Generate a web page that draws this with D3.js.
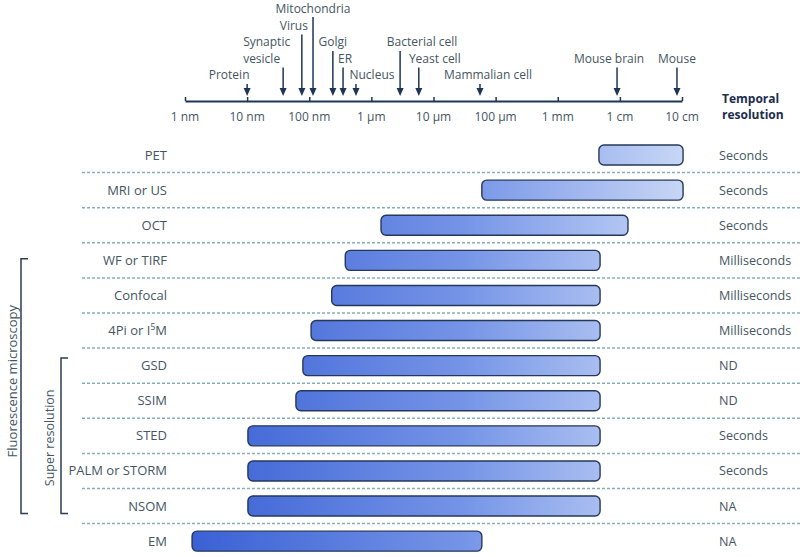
<!DOCTYPE html>
<html>
<head>
<meta charset="utf-8">
<script src="https://cdn.jsdelivr.net/npm/d3@7"></script>
<style>
  html, body { margin: 0; padding: 0; background: #fff; }
  svg { display: block; font-family: "Open Sans", "Lato", sans-serif; }
</style>
</head>
<body>
<svg id="chart" width="803" height="557"></svg>
<script>
// ---------- data ----------
const methods = ["PET", "MRI or US", "OCT", "WF or TIRF", "Confocal", "4Pi or I5M",
                 "GSD", "SSIM", "STED", "PALM or STORM", "NSOM", "EM"];
// spatial resolution range (metres), min and max
const resMin = [4.6e-3, 6.0e-5, 1.43e-6, 3.8e-7, 2.3e-7, 1.07e-7, 7.9e-8, 6.1e-8, 1.03e-8, 1.03e-8, 1.03e-8, 1.3e-9];
const resMax = [0.104, 0.104, 1.35e-2, 4.8e-3, 4.8e-3, 4.8e-3, 4.8e-3, 4.8e-3, 4.8e-3, 4.8e-3, 4.8e-3, 6.0e-5];
const temporal = ["Seconds", "Seconds", "Seconds", "Milliseconds", "Milliseconds", "Milliseconds",
                  "ND", "ND", "Seconds", "Seconds", "NA", "NA"];

const tickValues = [1e-9, 1e-8, 1e-7, 1e-6, 1e-5, 1e-4, 1e-3, 1e-2, 1e-1];
const tickLabels = ["1 nm", "10 nm", "100 nm", "1 µm", "10 µm", "100 µm", "1 mm", "1 cm", "10 cm"];

const objectNames = ["Protein", "Synaptic vesicle", "Virus", "Mitochondria", "Golgi", "ER", "Nucleus",
                     "Bacterial cell", "Yeast cell", "Mammalian cell", "Mouse brain", "Mouse"];
const objectSizes = [1e-8, 3.8e-8, 7.6e-8, 1.15e-7, 2.4e-7, 3.5e-7, 5.65e-7, 2.9e-6, 5.8e-6, 5.6e-5, 9.0e-3, 8.3e-2];

// ---------- layout (positions for object labels) ----------
const labelLevel = [0, 1, 3, 4, 2, 1, 0, 2, 1, 0, 1, 1];
const labelDx    = [-18, -40, -8, 0, 0, 2, 16, 22, 16, 8, -8, 0];
const labelAnchor = ["middle", "start", "middle", "middle", "middle", "middle", "middle",
                     "middle", "middle", "middle", "middle", "middle"];
const levelBaseline = [79, 62.5, 46, 29.5, 13];
const levelArrowTop = [84, 67.5, 51, 34.5, 17];

const svg = d3.select("#chart");
const navy = "#1e3656";
const textCol = "#44565f";

const x = d3.scaleLog().domain([1e-9, 1e-1]).range([185, 682]);
const y = d3.scaleBand().domain(methods).range([137.5, 558.7]).padding(0);

// gradient
const defs = svg.append("defs");
const grad = defs.append("linearGradient").attr("id", "barGrad")
  .attr("gradientUnits", "userSpaceOnUse")
  .attr("x1", 190).attr("x2", 685).attr("y1", 0).attr("y2", 0);
grad.append("stop").attr("offset", 0).attr("stop-color", "#3a60d4");
grad.append("stop").attr("offset", 0.55).attr("stop-color", "#7594e7");
grad.append("stop").attr("offset", 1).attr("stop-color", "#c8d7f6");

// ---------- top axis ----------
const axisY = 101;
const axis = d3.axisTop(x).tickValues(tickValues).tickFormat("").tickSize(4).tickSizeOuter(0);
const gAxis = svg.append("g").attr("transform", `translate(0,${axisY})`).call(axis);
gAxis.select(".domain").attr("stroke", navy).attr("stroke-width", 2.2);
gAxis.selectAll(".tick line").attr("stroke", navy).attr("stroke-width", 1.5);

svg.append("g").selectAll("text").data(tickValues).join("text")
  .attr("x", d => x(d)).attr("y", 121)
  .attr("text-anchor", "middle")
  .attr("font-size", 12).attr("fill", textCol)
  .text((d, i) => tickLabels[i]);

// object arrows and labels
const objG = svg.append("g");
objectSizes.forEach((s, i) => {
  const ax = x(s);
  const top = levelArrowTop[labelLevel[i]];
  objG.append("line").attr("x1", ax).attr("x2", ax).attr("y1", top).attr("y2", 90)
    .attr("stroke", navy).attr("stroke-width", 1.5);
  objG.append("path")
    .attr("d", `M${ax - 3.5},88 L${ax + 3.5},88 L${ax},96 Z`)
    .attr("fill", navy);
  const base = levelBaseline[labelLevel[i]];
  const t = objG.append("text")
    .attr("x", ax + labelDx[i])
    .attr("text-anchor", labelAnchor[i])
    .attr("font-size", 12).attr("fill", textCol);
  if (objectNames[i] === "Synaptic vesicle") {
    t.append("tspan").attr("x", ax + labelDx[i]).attr("y", base - 16.5).text("Synaptic");
    t.append("tspan").attr("x", ax + labelDx[i]).attr("y", base).text("vesicle");
  } else {
    t.attr("y", base).text(objectNames[i]);
  }
});

// Temporal resolution header (two separate lines)
svg.append("text").attr("x", 722).attr("y", 102.5).attr("font-size", 12)
  .attr("font-weight", "bold").attr("fill", "#1b2c4d").text("Temporal");
svg.append("text").attr("x", 722).attr("y", 119).attr("font-size", 12)
  .attr("font-weight", "bold").attr("fill", "#1b2c4d").text("resolution");

// ---------- rows ----------
// dashed separators
svg.append("g").selectAll("line").data(methods.slice(1)).join("line")
  .attr("x1", 82).attr("x2", 800)
  .attr("y1", d => y(d)).attr("y2", d => y(d))
  .attr("stroke", "#86b0b6").attr("stroke-width", 1.5)
  .attr("stroke-dasharray", "3,2");

// method labels
const lbl = svg.append("g").selectAll("text").data(methods).join("text")
  .attr("x", 167).attr("y", d => y(d) + y.bandwidth() / 2 + 4.5)
  .attr("text-anchor", "end").attr("font-size", 13).attr("fill", textCol);
lbl.each(function(d) {
  const t = d3.select(this);
  if (d === "4Pi or I5M") {
    t.append("tspan").text("4Pi or I");
    t.append("tspan").attr("font-size", 8.5).attr("dy", -5).text("5");
    t.append("tspan").attr("dy", 5).text("M");
  } else {
    t.text(d);
  }
});

// bars
const barH = 20;
svg.append("g").selectAll("rect").data(methods).join("rect")
  .attr("x", (d, i) => x(resMin[i]))
  .attr("width", (d, i) => x(resMax[i]) - x(resMin[i]))
  .attr("y", d => y(d) + y.bandwidth() / 2 - barH / 2)
  .attr("height", barH)
  .attr("rx", 5).attr("ry", 5)
  .attr("fill", "url(#barGrad)")
  .attr("stroke", "#26385a").attr("stroke-width", 1.4);

// temporal labels
svg.append("g").selectAll("text").data(methods).join("text")
  .attr("x", 719).attr("y", d => y(d) + y.bandwidth() / 2 + 4.5)
  .attr("font-size", 12.6).attr("fill", textCol)
  .text((d, i) => temporal[i]);

// ---------- brackets ----------
function bracket(xv, y0, y1) {
  svg.append("path")
    .attr("d", `M${xv + 7},${y0} L${xv},${y0} L${xv},${y1} L${xv + 7},${y1}`)
    .attr("fill", "none").attr("stroke", "#2c3e55").attr("stroke-width", 1.5);
}
const fTop = y("WF or TIRF") + 16, fBot = y("NSOM") + y.bandwidth() - 10;
bracket(21, fTop, fBot);
const sTop = y("GSD") + 10;
bracket(61, sTop, fBot);

svg.append("text")
  .attr("transform", `translate(17,${(fTop + fBot) / 2 - 5}) rotate(-90)`)
  .attr("text-anchor", "middle").attr("font-size", 13).attr("fill", textCol)
  .text("Fluorescence microscopy");
svg.append("text")
  .attr("transform", `translate(54,${(sTop + fBot) / 2 + 2}) rotate(-90)`)
  .attr("text-anchor", "middle").attr("font-size", 12.5).attr("fill", textCol)
  .text("Super resolution");
</script>
</body>
</html>
